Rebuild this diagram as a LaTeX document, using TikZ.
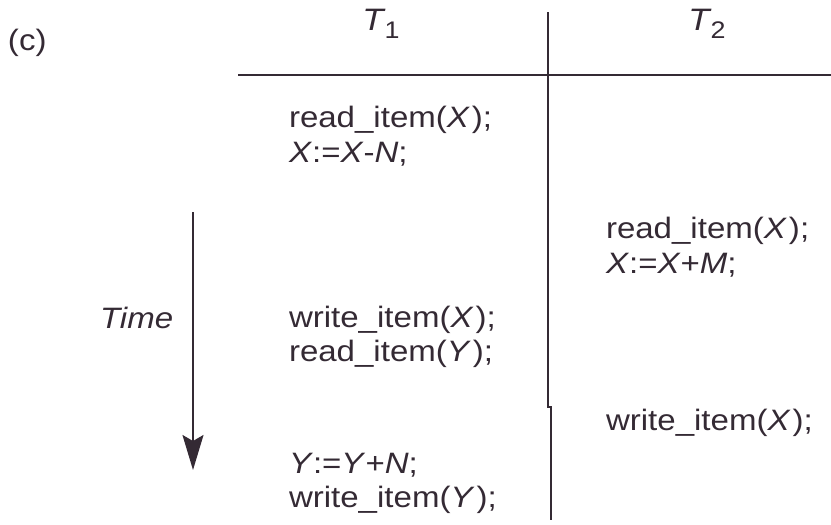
\documentclass[tikz,border=0pt]{standalone}
\usepackage{fontspec}
\setmainfont[FakeStretch=1.12]{Liberation Sans}
\usetikzlibrary{arrows.meta}
\definecolor{ink}{RGB}{52,42,52}
\newcommand{\vv}[1]{\textit{#1}\kern2pt}
\newcommand{\tsub}[2]{\textit{#1}\kern-1pt\raisebox{-8pt}{\fontsize{24}{28}\selectfont #2}}
\begin{document}
\begin{tikzpicture}[x=1pt,y=-1pt,
  txt/.style={anchor=base west,inner sep=0pt,outer sep=0pt,text=ink,font=\fontsize{29.5}{34}\selectfont},
  head/.style={anchor=base,inner sep=0pt,outer sep=0pt,text=ink,font=\fontsize{31}{36}\selectfont},
  rule/.style={draw=ink,line width=1.8pt}]
\useasboundingbox (0,0) rectangle (831,525);
% header
\node[txt] (c) at (8,50) {(c)};
\node[head] (t1) at (381,30) {\tsub{T}{1}};
\node[head] (t2) at (707,30) {\tsub{T}{2}};
% rules
\coordinate (hl) at (238,75);
\coordinate (hr) at (831,75);
\coordinate (vt) at (548,12);
\coordinate (vj) at (548,407);
\coordinate (vk) at (551,407);
\coordinate (vb) at (551,520);
\draw[rule] (hl) -- (hr);
\draw[rule] (vt) -- (vj) -- (vk) -- (vb);
% T1 operations
\node[txt] (a1) at (289,127) {read\_item(\vv{X});};
\node[txt] (a2) at (289,162) {\textit{X}:=\textit{X}-\textit{N};};
\node[txt] (a3) at (289,327) {write\_item(\vv{X});};
\node[txt] (a4) at (289,361) {read\_item(\vv{Y});};
\node[txt] (a5) at (289,473) {\textit{Y}:=\textit{Y}+\textit{N};};
\node[txt] (a6) at (289,507) {write\_item(\vv{Y});};
% T2 operations
\node[txt] (b1) at (606,238) {read\_item(\vv{X});};
\node[txt] (b2) at (606,273) {\textit{X}:=\textit{X}+\textit{M};};
\node[txt] (b3) at (606,430) {write\_item(\vv{X});};
% time arrow
\node[txt] (time) at (100,328) {\textit{Time}};
\coordinate (ta) at (193,212);
\coordinate (tb) at (193,470);
\draw[rule,-{Stealth[length=35pt,width=21pt,inset=6pt]}] (ta) -- (tb);
\end{tikzpicture}
\end{document}
